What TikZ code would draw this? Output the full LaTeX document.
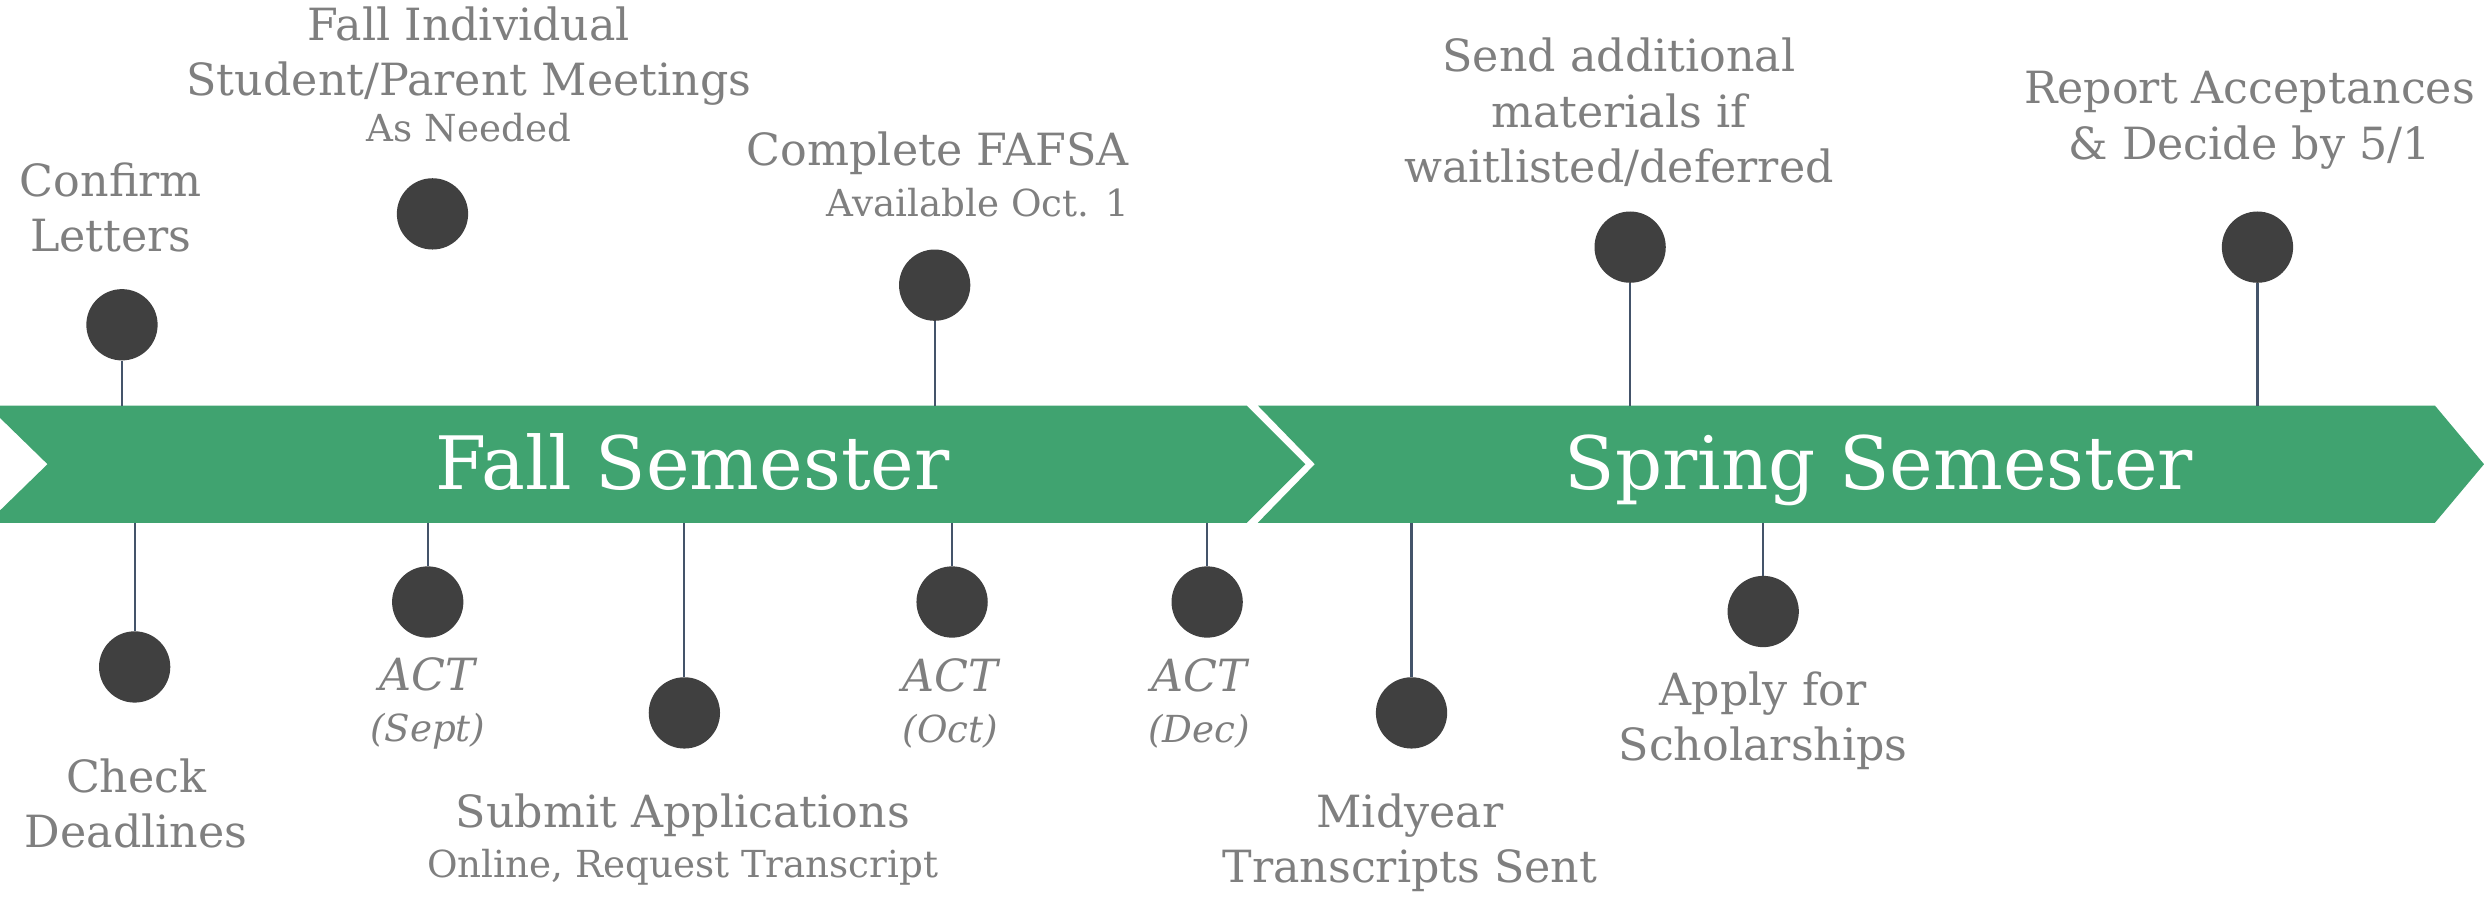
\documentclass[tikz,border=0pt]{standalone}
\usepackage{fontspec}
\setmainfont{DejaVu Serif}
\usetikzlibrary{calc}
\definecolor{bandgreen}{HTML}{40A370}
\definecolor{dotgray}{HTML}{404040}
\definecolor{txtgray}{HTML}{7F7F7F}
\definecolor{stemblue}{HTML}{44546A}
\newcommand{\smtxt}[1]{{\fontsize{23.5}{26}\selectfont #1}}
\tikzset{
  dot/.style={circle, fill=dotgray, minimum size=45, inner sep=0},
  lbl/.style={text=txtgray, align=center, inner sep=0, font=\fontsize{28}{35}\selectfont},
  stem/.style={draw=stemblue, line width=1.3},
  sem/.style={text=white, inner sep=0, anchor=base, font=\fontsize{46.5}{50}\selectfont}
}
\begin{document}
\begin{tikzpicture}[x=1pt,y=-1pt]
\useasboundingbox (0,0) rectangle (1568,566);
\clip (0,0) rectangle (1568,566);
\coordinate (btop) at (0,256); \coordinate (bbot) at (0,330);
\fill[bandgreen] (-8,256) -- (787,256) -- (824,293) -- (787,330) -- (-8,330) -- (30,293) -- cycle;
\fill[bandgreen] (794,256) -- (1537,256) -- (1568,293) -- (1537,330) -- (794,330) -- (830,293) -- cycle;
\node[sem] (fall) at (437,309) {Fall Semester};
\node[sem] (spring) at (1186,309) {Spring Semester};

% above the band
\node[dot] (dConfirm) at (77,205) {}; \node[dot] (dMeet) at (273,135) {};
\node[dot] (dFafsa) at (590,180) {}; \node[dot] (dSend) at (1029,156) {};
\node[dot] (dReport) at (1425,156) {};
\foreach \d in {dConfirm,dFafsa,dSend,dReport}{
  \draw[stem] (\d.south) -- (\d.south |- btop);
  }
\node[lbl] (tConfirm) at (70,131) {Confirm\\Letters};
\node[lbl] (tMeet) at (296,47) {Fall Individual\\Student/Parent Meetings\\[-6pt]\smtxt{As Needed}};
\node[lbl, align=right] (tFafsa) at (592,110) {Complete FAFSA\\[-3pt]\smtxt{Available Oct. 1}};
\node[lbl] (tSend) at (1022,71) {Send additional\\materials if\\waitlisted/deferred};
\node[lbl] (tReport) at (1420,76) {Report Acceptances\\\& Decide by 5/1};

% below the band
\node[dot] (dCheck) at (85,421) {}; \node[dot] (dSept) at (270,380) {};
\node[dot] (dSubmit) at (432,450) {}; \node[dot] (dOct) at (601,380) {};
\node[dot] (dDec) at (762,380) {}; \node[dot] (dMid) at (891,450) {};
\node[dot] (dSchol) at (1113,386) {};
\foreach \d in {dCheck,dSept,dSubmit,dOct,dDec,dMid,dSchol}{
  \draw[stem] (\d.north |- bbot) -- (\d.north);
  }
\node[lbl] (tCheck) at (86,507) {Check\\Deadlines};
\node[lbl, font=\fontsize{28}{35}\itshape] (tSept) at (270,444) {ACT\\[-3pt]\smtxt{(Sept)}};
\node[lbl] (tSubmit) at (431,530) {Submit Applications\\[-3pt]\smtxt{Online, Request Transcript}};
\node[lbl, font=\fontsize{28}{35}\itshape] (tOct) at (600,444) {ACT\\[-3pt]\smtxt{(Oct)}};
\node[lbl, font=\fontsize{28}{35}\itshape] (tDec) at (757,444) {ACT\\[-3pt]\smtxt{(Dec)}};
\node[lbl] (tMid) at (890,532) {Midyear\\Transcripts Sent};
\node[lbl] (tSchol) at (1113,455) {Apply for\\Scholarships};
\end{tikzpicture}
\end{document}
